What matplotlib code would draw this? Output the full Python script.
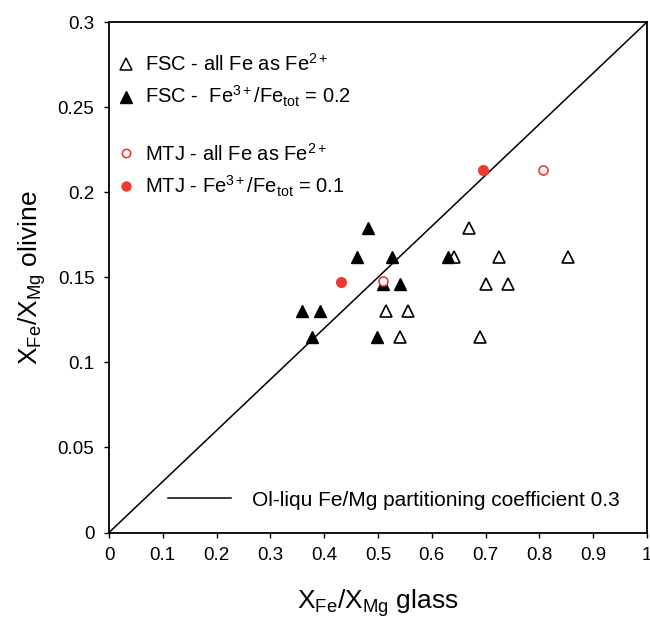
import numpy as np
import matplotlib
matplotlib.use('Agg')
import matplotlib.pyplot as plt
from matplotlib.lines import Line2D

plt.rcParams['font.family'] = ['Liberation Sans', 'DejaVu Sans']
plt.rcParams['mathtext.fontset'] = 'custom'
plt.rcParams['mathtext.rm'] = 'Liberation Sans'
plt.rcParams['mathtext.it'] = 'Liberation Sans:italic'

# FSC - all Fe as Fe2+ (open triangles)
fsc_open_x = [0.669, 0.642, 0.725, 0.853, 0.700, 0.742, 0.514, 0.556, 0.540, 0.690]
fsc_open_y = [0.179, 0.162, 0.162, 0.162, 0.146, 0.146, 0.130, 0.130, 0.115, 0.115]

# FSC - Fe3+/Fetot = 0.2 (filled triangles)
fsc_fill_x = [0.482, 0.461, 0.526, 0.630, 0.510, 0.540, 0.359, 0.392, 0.378, 0.499]
fsc_fill_y = [0.179, 0.162, 0.162, 0.162, 0.146, 0.146, 0.130, 0.130, 0.115, 0.115]

# MTJ - all Fe as Fe2+ (open red circles)
mtj_open_x = [0.806, 0.510]
mtj_open_y = [0.213, 0.148]

# MTJ - Fe3+/Fetot = 0.1 (filled red circles)
mtj_fill_x = [0.696, 0.432]
mtj_fill_y = [0.213, 0.147]

kd = 0.3
line_x = [0, 1]

red = '#ee3b2f'

fig = plt.figure(figsize=(6.5, 6.18), dpi=100)
ax = fig.add_axes([0.1677, 0.1383, 0.8277, 0.8261])

ax.plot(line_x, [kd * v for v in line_x], color='black', lw=1.1)
ax.plot(fsc_open_x, fsc_open_y, '^', ms=9, mfc='white', mec='black', mew=1.2, ls='none')
ax.plot(fsc_fill_x, fsc_fill_y, '^', ms=9, mfc='black', mec='black', mew=1.0, ls='none')
ax.plot(mtj_open_x, mtj_open_y, 'o', ms=6.5, mfc='white', mec=red, mew=1.2, ls='none')
ax.plot(mtj_fill_x, mtj_fill_y, 'o', ms=7, mfc=red, mec=red, ls='none')

ax.set_xlim(0, 1)
ax.set_ylim(0, 0.3)
ax.set_xticks(np.arange(0, 1.01, 0.1))
ax.set_xticklabels(['0', '0.1', '0.2', '0.3', '0.4', '0.5', '0.6', '0.7', '0.8', '0.9', '1'])
ax.set_yticks(np.arange(0, 0.301, 0.05))
ax.set_yticklabels(['0', '0.05', '0.1', '0.15', '0.2', '0.25', '0.3'])
ax.tick_params(direction='out', length=3.5, width=1, labelsize=13.5, pad=7)
for s in ax.spines.values():
    s.set_linewidth(1.3)

ax.set_xlabel(r'$\mathrm{X_{Fe}/X_{Mg}}$ glass', fontsize=19, labelpad=17)
ax.set_ylabel(r'$\mathrm{X_{Fe}/X_{Mg}}$ olivine', fontsize=19, labelpad=7)

lkw = dict(frameon=False, loc='upper left', fontsize=14.5, handlelength=1.0,
           handletextpad=0.45, borderpad=0, borderaxespad=0, labelspacing=0.45)

h1 = [Line2D([], [], marker='^', ls='none', ms=8, mfc='white', mec='black', mew=1.1),
      Line2D([], [], marker='^', ls='none', ms=8, mfc='black', mec='black')]
leg1 = ax.legend(h1, ['FSC - all Fe as Fe$^{2+}$',
                      r'FSC -  Fe$^{3+}$/Fe$_{\mathrm{tot}}$ = 0.2'],
                 bbox_to_anchor=(0.012, 0.939), **lkw)
ax.add_artist(leg1)

h2 = [Line2D([], [], marker='o', ls='none', ms=6, mfc='white', mec=red, mew=1.2),
      Line2D([], [], marker='o', ls='none', ms=6.5, mfc=red, mec=red)]
leg2 = ax.legend(h2, ['MTJ - all Fe as Fe$^{2+}$',
                      r'MTJ - Fe$^{3+}$/Fe$_{\mathrm{tot}}$ = 0.1'],
                 bbox_to_anchor=(0.012, 0.764), **lkw)
ax.add_artist(leg2)

h3 = [Line2D([], [], color='black', lw=1.1)]
ax.legend(h3, ['Ol-liqu Fe/Mg partitioning coefficient 0.3'], frameon=False,
          loc='lower left', bbox_to_anchor=(0.11, 0.045), fontsize=15,
          handlelength=3.0, handletextpad=1.0, borderpad=0, borderaxespad=0)

fig.savefig('out.png', dpi=100)
